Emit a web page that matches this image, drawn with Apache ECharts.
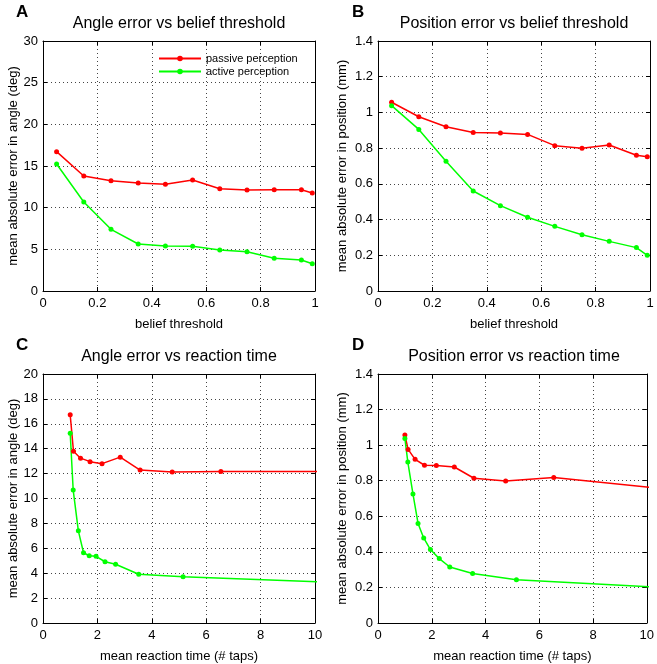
<!DOCTYPE html>
<html><head><meta charset="utf-8">
<script src="https://cdn.jsdelivr.net/npm/echarts@6/dist/echarts.min.js"></script>
<style>html,body{margin:0;padding:0;background:#fff}#c{width:657px;height:664px}</style>
</head><body><div id="c"></div>
<script>
// belief thresholds (panels A, B)
const beliefThreshold = [0.05,0.15,0.25,0.35,0.45,0.55,0.65,0.75,0.85,0.95,0.99];
// angle error (deg)
const angPassive = [16.72,13.8,13.24,12.96,12.8,13.32,12.28,12.12,12.16,12.16,11.76];
const angActive  = [15.24,10.68,7.4,5.64,5.4,5.36,4.92,4.72,3.92,3.72,3.28];
// position error (mm)
const posPassive = [1.057,0.976,0.920,0.887,0.885,0.877,0.814,0.799,0.818,0.760,0.752];
const posActive  = [1.038,0.905,0.726,0.560,0.478,0.413,0.362,0.315,0.278,0.243,0.200];
// mean reaction time (# taps)
const rtPassive = [1.00,1.12,1.38,1.73,2.17,2.84,3.57,4.75,6.54,10.3,14];
const rtActive  = [1.00,1.11,1.30,1.49,1.70,1.95,2.28,2.67,3.52,5.15,10.5];

const titles = ['Angle error vs belief threshold','Position error vs belief threshold','Angle error vs reaction time','Position error vs reaction time'];
const letters = ['A','B','C','D'];
const xNames = ['belief threshold','belief threshold','mean reaction time (# taps)','mean reaction time (# taps)'];
const yNames = ['mean absolute error in angle (deg)','mean absolute error in position (mm)','mean absolute error in angle (deg)','mean absolute error in position (mm)'];
const seriesNames = ['passive perception','active perception'];

const FONT = 'Liberation Sans, Arial, sans-serif';
const RED = '#ff0000', GREEN = '#00ff00';

const grids = [
  {left:43, top:41, width:272, height:250},
  {left:378, top:41, width:272, height:250},
  {left:43, top:374, width:272, height:251},
  {left:378, top:374, width:272, height:251}
];
const xCfg = [
  {min:0,max:1,interval:0.2},{min:0,max:1,interval:0.2},
  {min:0,max:10,interval:2},{min:0,max:10,interval:2}
];
const yCfg = [
  {min:0,max:30,interval:5},{min:0,max:1.4,interval:0.2},
  {min:0,max:20,interval:2},{min:0,max:1.4,interval:0.2}
];
const fmt = v => String(Math.round(v*1000)/1000);

const xAxis=[], yAxis=[], series=[], title=[];
grids.forEach((g,i)=>{
  const gridLine = {show:true, lineStyle:{color:'#444', type:[1,3], width:1}};
  xAxis.push({gridIndex:i, type:'value', position:'bottom', ...xCfg[i],
    name:xNames[i], nameLocation:'middle', nameGap:27,
    nameTextStyle:{fontFamily:FONT, fontSize:13, color:'#000'},
    axisLine:{show:true, onZero:false, lineStyle:{color:'#000', width:1}},
    axisTick:{show:true, inside:true, length:4, lineStyle:{color:'#000'}},
    axisLabel:{fontFamily:FONT, fontSize:13, color:'#000', margin:6, formatter:fmt, showMinLabel:true, showMaxLabel:true},
    splitLine:gridLine});
  xAxis.push({gridIndex:i, type:'value', position:'top', ...xCfg[i],
    axisLine:{show:true, onZero:false, lineStyle:{color:'#000', width:1}},
    axisTick:{show:true, inside:true, length:4, lineStyle:{color:'#000'}},
    axisLabel:{show:false}, splitLine:{show:false}});
  yAxis.push({gridIndex:i, type:'value', position:'left', ...yCfg[i],
    name:yNames[i], nameLocation:'middle', nameGap:i%2===0?22:29,
    nameTextStyle:{fontFamily:FONT, fontSize:13, color:'#000'},
    axisLine:{show:true, onZero:false, lineStyle:{color:'#000', width:1}},
    axisTick:{show:true, inside:true, length:4, lineStyle:{color:'#000'}},
    axisLabel:{fontFamily:FONT, fontSize:13, color:'#000', margin:5, formatter:fmt, showMinLabel:true, showMaxLabel:true},
    splitLine:gridLine});
  yAxis.push({gridIndex:i, type:'value', position:'right', ...yCfg[i],
    axisLine:{show:true, onZero:false, lineStyle:{color:'#000', width:1}},
    axisTick:{show:true, inside:true, length:4, lineStyle:{color:'#000'}},
    axisLabel:{show:false}, splitLine:{show:false}});
  title.push({text:titles[i], left:g.left+g.width/2, textAlign:'center', top:g.top-25, padding:0,
    textStyle:{fontFamily:FONT, fontSize:16, fontWeight:'normal', color:'#000'}});
  title.push({text:letters[i], left:i%2===0?16:352, top:g.top-37, padding:0,
    textStyle:{fontFamily:FONT, fontSize:17, fontWeight:'bold', color:'#000'}});
});

const panels = [
  [[beliefThreshold,angPassive],[beliefThreshold,angActive]],
  [[beliefThreshold,posPassive],[beliefThreshold,posActive]],
  [[rtPassive,angPassive],[rtActive,angActive]],
  [[rtPassive,posPassive],[rtActive,posActive]]
];
panels.forEach((p,i)=>{
  p.forEach((s,k)=>{
    series.push({type:'line', name:seriesNames[k], xAxisIndex:2*i, yAxisIndex:2*i,
      data:s[0].map((x,j)=>[x,s[1][j]]),
      symbol:'circle', symbolSize:5, clip:true, animation:false,
      color: k===0?RED:GREEN,
      lineStyle:{width:1.5, color:k===0?RED:GREEN},
      itemStyle:{color:k===0?RED:GREEN}});
  });
});

const chart = echarts.init(document.getElementById('c'), null, {renderer:'canvas'});
chart.setOption({
  animation:false,
  backgroundColor:'#fff',
  title,
  legend:{show:true, data:seriesNames, orient:'vertical', left:158, top:52, itemGap:0,
    itemWidth:42, itemHeight:7, selectedMode:false, padding:0,
    itemStyle:{borderWidth:0},
    textStyle:{fontFamily:FONT, fontSize:11, color:'#000', lineHeight:13}},
  grid:grids,
  xAxis, yAxis, series
});
</script></body></html>
